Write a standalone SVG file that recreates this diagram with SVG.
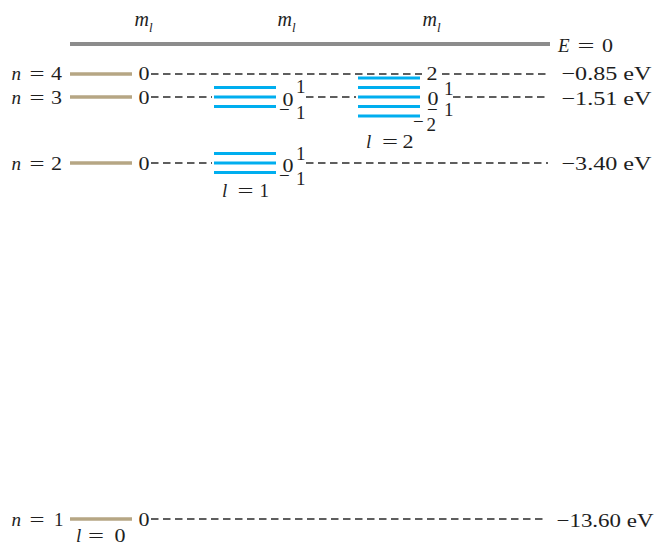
<svg xmlns="http://www.w3.org/2000/svg" width="655" height="545" viewBox="0 0 655 545">
<style>
text{font-family:"Liberation Serif","Times New Roman",serif;font-size:19px;fill:#1e1e1e}
.it{font-style:italic}
.m{font-size:20px}
.sub{font-size:13px}
.tan{stroke:#b6a684;stroke-width:3.5}
.blue{stroke:#00aeef;stroke-width:3}
.dash{stroke:#2a2a2a;stroke-width:1.3;stroke-dasharray:7.5 4.5;fill:none}
.top{stroke:#8c8c8c;stroke-width:4}
</style>
<rect width="655" height="545" fill="#ffffff"/>

<g id="header">
  <text class="it m" x="134.5" y="26">m<tspan class="sub" dy="6">l</tspan></text>
  <text class="it m" x="277.5" y="26">m<tspan class="sub" dy="6">l</tspan></text>
  <text class="it m" x="422.5" y="26">m<tspan class="sub" dy="6">l</tspan></text>
</g>

<g id="level-E0">
  <line class="top" x1="70" y1="44" x2="550" y2="44"/>
  <text y="52"><tspan class="it" x="558">E</tspan> <tspan x="577.5" textLength="17" lengthAdjust="spacingAndGlyphs">=</tspan> <tspan x="602" textLength="11" lengthAdjust="spacingAndGlyphs">0</tspan></text>
</g>

<g id="connectors">
  <path class="dash" d="M151 74H422M442 74H548"/>
  <path class="dash" d="M151 97H212M306 97H356M453 97H548"/>
  <path class="dash" d="M151 163H212M306 163H548"/>
  <path class="dash" d="M151 519H546"/>
</g>

<g id="level-n4">
  <line class="tan" x1="70" y1="74" x2="132" y2="74"/>
  <text y="80"><tspan class="it" x="11.5">n</tspan> <tspan x="29.5" textLength="15" lengthAdjust="spacingAndGlyphs">=</tspan> <tspan x="51" textLength="11" lengthAdjust="spacingAndGlyphs">4</tspan></text>
  <text x="138.5" y="80" textLength="11" lengthAdjust="spacingAndGlyphs">0</text>
  <text x="561.5" y="80" textLength="90" lengthAdjust="spacingAndGlyphs">−0.85 eV</text>
</g>

<g id="level-n3">
  <line class="tan" x1="70" y1="97" x2="132" y2="97"/>
  <text y="104"><tspan class="it" x="11.5">n</tspan> <tspan x="29.5" textLength="15" lengthAdjust="spacingAndGlyphs">=</tspan> <tspan x="51" textLength="11" lengthAdjust="spacingAndGlyphs">3</tspan></text>
  <text x="138.5" y="104" textLength="11" lengthAdjust="spacingAndGlyphs">0</text>
  <g id="n3-l1">
    <line class="blue" x1="214" y1="87.5" x2="276" y2="87.5"/>
    <line class="blue" x1="214" y1="97" x2="276" y2="97"/>
    <line class="blue" x1="214" y1="106.5" x2="276" y2="106.5"/>
    <text x="296" y="93">1</text>
    <text x="282.5" y="105.5" textLength="11" lengthAdjust="spacingAndGlyphs">0</text>
    <text y="118.5"><tspan x="279" dy="-3">−</tspan><tspan x="296" dy="3">1</tspan></text>
  </g>
  <g id="n3-l2">
    <line class="blue" x1="358" y1="78" x2="420" y2="78"/>
    <line class="blue" x1="358" y1="87.5" x2="420" y2="87.5"/>
    <line class="blue" x1="358" y1="97" x2="420" y2="97"/>
    <line class="blue" x1="358" y1="106.5" x2="420" y2="106.5"/>
    <line class="blue" x1="358" y1="116" x2="420" y2="116"/>
    <text x="426.5" y="80" textLength="11" lengthAdjust="spacingAndGlyphs">2</text>
    <text x="444" y="95">1</text>
    <text x="427.5" y="105" textLength="11" lengthAdjust="spacingAndGlyphs">0</text>
    <text y="115.5"><tspan x="427">−</tspan><tspan x="444">1</tspan></text>
    <text y="131"><tspan x="413" dy="-3.5">−</tspan><tspan x="426.5" dy="3.5">2</tspan></text>
    <text y="148"><tspan class="it" x="366">l</tspan> <tspan x="382" textLength="16" lengthAdjust="spacingAndGlyphs">=</tspan> <tspan x="402.5" textLength="11" lengthAdjust="spacingAndGlyphs">2</tspan></text>
  </g>
  <text x="561.5" y="105" textLength="90" lengthAdjust="spacingAndGlyphs">−1.51 eV</text>
</g>

<g id="level-n2">
  <line class="tan" x1="70" y1="163" x2="132" y2="163"/>
  <text y="170"><tspan class="it" x="11.5">n</tspan> <tspan x="29.5" textLength="15" lengthAdjust="spacingAndGlyphs">=</tspan> <tspan x="51" textLength="11" lengthAdjust="spacingAndGlyphs">2</tspan></text>
  <text x="138.5" y="170" textLength="11" lengthAdjust="spacingAndGlyphs">0</text>
  <g id="n2-l1">
    <line class="blue" x1="214" y1="153.5" x2="276" y2="153.5"/>
    <line class="blue" x1="214" y1="163" x2="276" y2="163"/>
    <line class="blue" x1="214" y1="172.5" x2="276" y2="172.5"/>
    <text x="296" y="159.5">1</text>
    <text x="282.5" y="172" textLength="11" lengthAdjust="spacingAndGlyphs">0</text>
    <text y="184.5"><tspan x="279" dy="-3">−</tspan><tspan x="296" dy="3">1</tspan></text>
    <text y="197"><tspan class="it" x="222">l</tspan> <tspan x="237.5" textLength="16" lengthAdjust="spacingAndGlyphs">=</tspan> <tspan x="259.5">1</tspan></text>
  </g>
  <text x="561.5" y="170" textLength="90" lengthAdjust="spacingAndGlyphs">−3.40 eV</text>
</g>

<g id="level-n1">
  <line class="tan" x1="70" y1="519" x2="132" y2="519"/>
  <text y="526"><tspan class="it" x="11.5">n</tspan> <tspan x="29.5" textLength="15" lengthAdjust="spacingAndGlyphs">=</tspan> <tspan x="54">1</tspan></text>
  <text x="138.5" y="526" textLength="11" lengthAdjust="spacingAndGlyphs">0</text>
  <text y="541.5"><tspan class="it" x="76">l</tspan> <tspan x="88" textLength="16" lengthAdjust="spacingAndGlyphs">=</tspan> <tspan x="114.5" textLength="11" lengthAdjust="spacingAndGlyphs">0</tspan></text>
  <text x="556.5" y="527" textLength="97" lengthAdjust="spacingAndGlyphs">−13.60 eV</text>
</g>
</svg>
